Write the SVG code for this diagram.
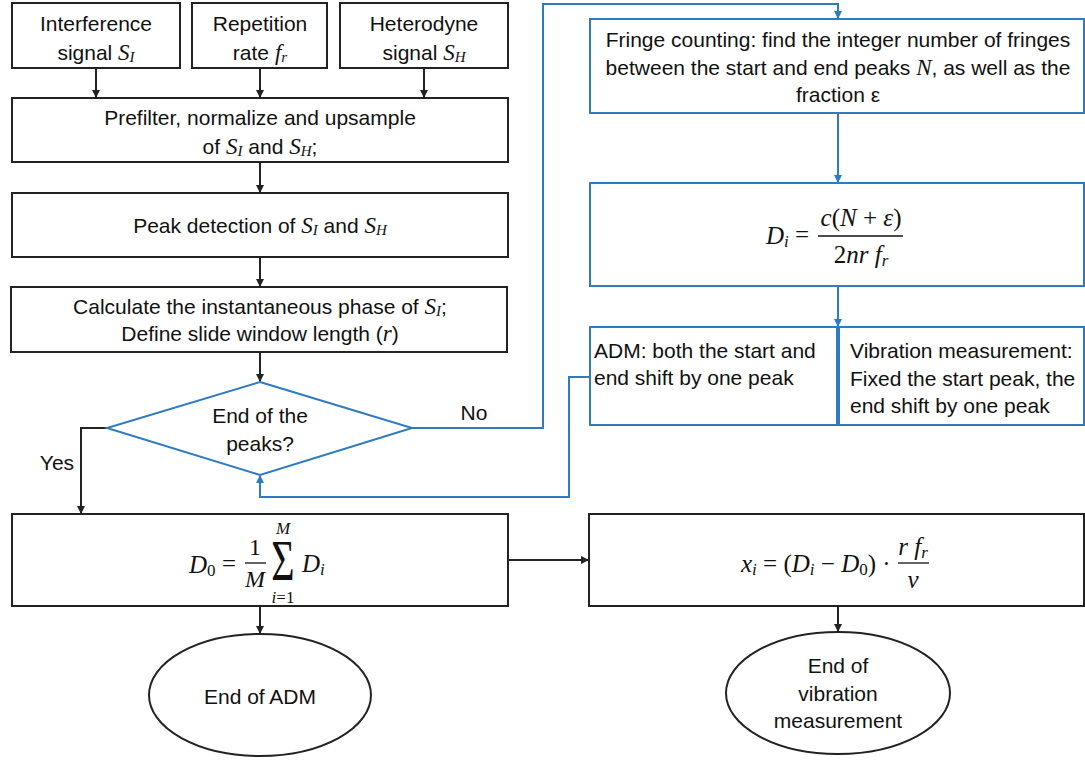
<svg xmlns="http://www.w3.org/2000/svg" width="1085" height="761" viewBox="0 0 1085 761">
<style>
  .bk { fill: #fff; stroke: #222; stroke-width: 2; }
  .bl { fill: #fff; stroke: #2E7BC0; stroke-width: 2; }
  .t { font-family: "Liberation Sans", Arial, sans-serif; font-size: 21px; fill: #111; text-anchor: middle; dominant-baseline: central; }
  .ts { font-family: "Liberation Sans", Arial, sans-serif; font-size: 21px; fill: #111; text-anchor: start; dominant-baseline: central; }
  .m { font-family: "Liberation Serif", "Times New Roman", serif; font-style: italic; }
  .mb { font-family: "Liberation Serif", "Times New Roman", serif; font-style: italic; font-size: 23px; }
  .sb { font-family: "Liberation Serif", "Times New Roman", serif; font-style: italic; font-size: 15px; }
  .mt { font-family: "Liberation Serif", "Times New Roman", serif; fill: #111; dominant-baseline: central; }
  .cb { fill: none; stroke: #222; stroke-width: 2; }
  .cl { fill: none; stroke: #2E7BC0; stroke-width: 2; }
</style>
<defs>
  <marker id="ab" markerWidth="8" markerHeight="8" refX="7" refY="4" orient="auto" markerUnits="userSpaceOnUse">
    <path d="M0,0 L8,4 L0,8 Z" fill="#222"/>
  </marker>
  <marker id="al" markerWidth="8" markerHeight="8" refX="7" refY="4" orient="auto" markerUnits="userSpaceOnUse">
    <path d="M0,0 L8,4 L0,8 Z" fill="#2E7BC0"/>
  </marker>
</defs>
<rect width="1085" height="761" fill="#fff"/>

<g id="connectors">
  <line class="cb" x1="96" y1="68" x2="96" y2="97" marker-end="url(#ab)"/>
  <line class="cb" x1="260" y1="68" x2="260" y2="97" marker-end="url(#ab)"/>
  <line class="cb" x1="424" y1="68" x2="424" y2="97" marker-end="url(#ab)"/>
  <line class="cb" x1="260" y1="162" x2="260" y2="192" marker-end="url(#ab)"/>
  <line class="cb" x1="260" y1="257" x2="260" y2="286" marker-end="url(#ab)"/>
  <line class="cb" x1="260" y1="352" x2="260" y2="381" marker-end="url(#ab)"/>
  <polyline class="cb" points="107,428 81,428 81,513" marker-end="url(#ab)"/>
  <line class="cb" x1="508" y1="560" x2="588" y2="560" marker-end="url(#ab)"/>
  <line class="cb" x1="260" y1="606" x2="260" y2="633" marker-end="url(#ab)"/>
  <line class="cb" x1="838" y1="606" x2="838" y2="631" marker-end="url(#ab)"/>
  <polyline class="cl" points="412,428 543,428 543,4 838,4 838,18" marker-end="url(#al)"/>
  <line class="cl" x1="838" y1="113" x2="838" y2="182" marker-end="url(#al)"/>
  <line class="cl" x1="838" y1="286" x2="838" y2="326" marker-end="url(#al)"/>
  <polyline class="cl" points="590,377 569,377 569,497 260,497 260,476" marker-end="url(#al)"/>
  <text class="t" x="474" y="412">No</text>
  <text class="t" x="57" y="462">Yes</text>
</g>

<g id="n-interference">
  <rect class="bk" x="12" y="3" width="168" height="65"/>
  <text class="t" x="96" y="23">Interference</text>
  <text class="t" x="96" y="52">signal <tspan class="mb">S</tspan><tspan class="sb" dy="5">I</tspan></text>
</g>
<g id="n-reprate">
  <rect class="bk" x="192" y="3" width="135" height="65"/>
  <text class="t" x="260" y="23">Repetition</text>
  <text class="t" x="260" y="52">rate <tspan class="mb">f</tspan><tspan class="sb" dy="5">r</tspan></text>
</g>
<g id="n-heterodyne">
  <rect class="bk" x="340" y="3" width="168" height="65"/>
  <text class="t" x="424" y="23">Heterodyne</text>
  <text class="t" x="424" y="52">signal <tspan class="mb">S</tspan><tspan class="sb" dy="5">H</tspan></text>
</g>
<g id="n-prefilter">
  <rect class="bk" x="12" y="98" width="496" height="64"/>
  <text class="t" x="260" y="117">Prefilter, normalize and upsample</text>
  <text class="t" x="260" y="146">of <tspan class="mb">S</tspan><tspan class="sb" dy="5">I</tspan><tspan dy="-5"> and </tspan><tspan class="mb">S</tspan><tspan class="sb" dy="5">H</tspan><tspan dy="-5">;</tspan></text>
</g>
<g id="n-peak">
  <rect class="bk" x="12" y="193" width="496" height="64"/>
  <text class="t" x="260" y="225">Peak detection of <tspan class="mb">S</tspan><tspan class="sb" dy="5">I</tspan><tspan dy="-5"> and </tspan><tspan class="mb">S</tspan><tspan class="sb" dy="5">H</tspan></text>
</g>
<g id="n-calc">
  <rect class="bk" x="11" y="287" width="496" height="65"/>
  <text class="t" x="260" y="306">Calculate the instantaneous phase of <tspan class="mb">S</tspan><tspan class="sb" dy="5">I</tspan><tspan dy="-5">;</tspan></text>
  <text class="t" x="260" y="333">Define slide window length (<tspan class="mb">r</tspan>)</text>
</g>
<g id="n-decision">
  <polygon class="bl" points="260,382 412,428 260,475 107,428"/>
  <text class="t" x="260" y="415">End of the</text>
  <text class="t" x="260" y="443">peaks?</text>
</g>
<g id="n-fringe">
  <rect class="bl" x="590" y="19" width="494" height="94"/>
  <text class="t" x="838" y="39">Fringe counting: find the integer number of fringes</text>
  <text class="t" x="838" y="67">between the start and end peaks <tspan class="mb">N</tspan>, as well as the</text>
  <text class="t" x="838" y="94">fraction ε</text>
</g>
<g id="n-di">
  <rect class="bl" x="590" y="183" width="494" height="103"/>
  <text class="mt" x="766" y="235" font-size="25"><tspan font-style="italic">D</tspan><tspan font-style="italic" font-size="17" dy="6">i</tspan></text>
  <text class="mt" x="802" y="234" font-size="25" text-anchor="middle">=</text>
  <text class="mt" x="861" y="217" font-size="25" text-anchor="middle"><tspan font-style="italic">c</tspan>(<tspan font-style="italic">N</tspan> + <tspan font-style="italic">ε</tspan>)</text>
  <line x1="818" y1="236" x2="903" y2="236" stroke="#111" stroke-width="1.3"/>
  <text class="mt" x="861" y="254" font-size="25" text-anchor="middle">2<tspan font-style="italic">nr f</tspan><tspan font-style="italic" font-size="17" dy="6">r</tspan></text>
</g>
<g id="n-shift">
  <rect class="bl" x="590" y="327" width="494" height="98"/>
  <line x1="838" y1="327" x2="838" y2="425" stroke="#2E7BC0" stroke-width="4"/>
  <text class="ts" x="594" y="350">ADM: both the start and</text>
  <text class="ts" x="594" y="377">end shift by one peak</text>
  <text class="ts" x="850" y="350">Vibration measurement:</text>
  <text class="ts" x="850" y="378">Fixed the start peak, the</text>
  <text class="ts" x="850" y="405">end shift by one peak</text>
</g>
<g id="n-d0">
  <rect class="bk" x="12" y="514" width="496" height="92"/>
  <text class="mt" x="189" y="564" font-size="25"><tspan font-style="italic">D</tspan><tspan font-size="17" dy="6">0</tspan></text>
  <text class="mt" x="229" y="563" font-size="25" text-anchor="middle">=</text>
  <text class="mt" x="255" y="547" font-size="24" text-anchor="middle">1</text>
  <line x1="245" y1="563" x2="266" y2="563" stroke="#111" stroke-width="1.3"/>
  <text class="mt" x="255" y="579" font-size="24" text-anchor="middle" font-style="italic">M</text>
  <g transform="translate(283,562) scale(1,1.4)"><text class="mt" x="0" y="0" font-size="40" text-anchor="middle">Σ</text></g>
  <text class="mt" x="283" y="528" font-size="17" text-anchor="middle" font-style="italic">M</text>
  <text class="mt" x="283" y="597" font-size="17" text-anchor="middle"><tspan font-style="italic">i</tspan>=1</text>
  <text class="mt" x="302" y="563" font-size="25"><tspan font-style="italic">D</tspan><tspan font-style="italic" font-size="17" dy="6">i</tspan></text>
</g>
<g id="n-xi">
  <rect class="bk" x="589" y="514" width="495" height="92"/>
  <text class="mt" x="741" y="563" font-size="25"><tspan font-style="italic">x</tspan><tspan font-style="italic" font-size="17" dy="6">i</tspan><tspan dy="-6"> = (</tspan><tspan font-style="italic">D</tspan><tspan font-style="italic" font-size="17" dy="6">i</tspan><tspan dy="-6"> − </tspan><tspan font-style="italic">D</tspan><tspan font-size="17" dy="6">0</tspan><tspan dy="-6">) ·</tspan></text>
  <text class="mt" x="913" y="546" font-size="25" text-anchor="middle"><tspan font-style="italic">r f</tspan><tspan font-style="italic" font-size="17" dy="6">r</tspan></text>
  <line x1="898" y1="563" x2="929" y2="563" stroke="#111" stroke-width="1.3"/>
  <text class="mt" x="913" y="579" font-size="25" text-anchor="middle" font-style="italic">ν</text>
</g>
<g id="n-end-adm">
  <ellipse class="bk" cx="260" cy="695" rx="111" ry="61"/>
  <text class="t" x="260" y="696">End of ADM</text>
</g>
<g id="n-end-vib">
  <ellipse class="bk" cx="838" cy="693" rx="112" ry="61"/>
  <text class="t" x="838" y="665">End of</text>
  <text class="t" x="838" y="693">vibration</text>
  <text class="t" x="838" y="720">measurement</text>
</g>
</svg>
